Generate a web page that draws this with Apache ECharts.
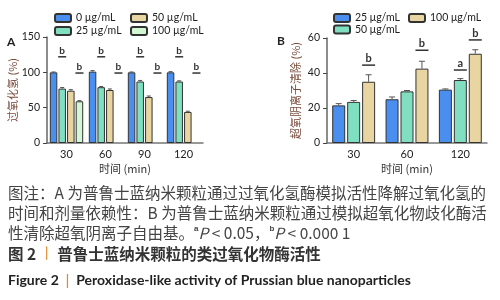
<!DOCTYPE html>
<html>
<head>
    <meta charset="utf-8">
    <title>fig2</title>
    <script src="https://cdn.jsdelivr.net/npm/echarts@6/dist/echarts.min.js"></script>
    <style>
        html, body { margin: 0; padding: 0; background: #fff; }
    </style>
</head>
<body>
<div id="chart" style="width: 500px; height: 300px;"></div>
<script>
    // 图A 数据
    var catsA = ['30', '60', '90', '120'];
    var namesA = ['0 µg/mL', '25 µg/mL', '50 µg/mL', '100 µg/mL'];
    var valA0 = [100, 101, 100, 100];
    var valA25 = [77, 79, 87, 87];
    var valA50 = [74, 75, 65, 44];
    var valA100 = [59, null, null, null];
    var errA0 = [0.5, 1.5, 0.5, 1];
    var errA25 = [1.5, 1, 1.5, 1];
    var errA50 = [1.5, 1.5, 1.5, 1];
    var errA100 = [1, null, null, null];
    // 显著性标记 [类别, 柱序号, 横线位置, 文字]
    var sigA = [[0, 1, 122, 'b'], [0, 3, 99, 'b'], [1, 1, 122, 'b'], [1, 3, 99, 'b'],
        [2, 1, 122, 'b'], [2, 3, 99, 'b'], [3, 1, 122, 'b'], [3, 3, 99, 'b']];
    var ticksA = [0, 50, 100, 150];

    // 图B 数据
    var catsB = ['30', '60', '120'];
    var namesB = ['25 μg/mL', '50 μg/mL', '100 μg/mL'];
    var valB25 = [21.5, 25, 30.5];
    var valB50 = [23.5, 29.5, 36];
    var valB100 = [35, 42.5, 51];
    var errB25 = [1, 1.3, 0.4];
    var errB50 = [0.8, 0.5, 0.8];
    var errB100 = [4, 4.2, 2.3];
    var sigB = [[0, 2, 44.5, 'b'], [1, 2, 53, 'b'], [2, 1, 41.7, 'a'], [2, 2, 58.9, 'b']];
    var ticksB = [0, 20, 40, 60];

    var colorsA = ['#4a8ef0', '#80dfc0', '#e9d5a1', '#d2f7d2'];
    var colorsB = ['#4a8ef0', '#80dfc0', '#e9d5a1'];

    var latin = 'Lato, "Noto Sans", sans-serif';
    var cjk = '"Noto Sans CJK SC", sans-serif';

    function errData(vals, errs) {
        var out = [];
        for (var s = 0; s < vals.length; s++) {
            for (var c = 0; c < vals[s].length; c++) {
                if (vals[s][c] != null) out.push([c, s, vals[s][c], errs[s][c]]);
            }
        }
        return out;
    }

    // 误差线
    function errRender(n, step, capW) {
        return function (params, api) {
            var cat = api.value(0), slot = api.value(1), v = api.value(2), e = api.value(3);
            var p0 = api.coord([cat, v]);
            var p1 = api.coord([cat, v + e]);
            var x = p0[0] + (slot - (n - 1) / 2) * step;
            return {
                type: 'group',
                children: [
                    {type: 'line', shape: {x1: x, y1: p0[1], x2: x, y2: p1[1]}, style: {stroke: '#555', lineWidth: 1}},
                    {type: 'line', shape: {x1: x - capW / 2, y1: p1[1], x2: x + capW / 2, y2: p1[1]}, style: {stroke: '#555', lineWidth: 1}}
                ]
            };
        };
    }

    // 显著性 b / a
    function sigRender(n, step, lineW, fs) {
        return function (params, api) {
            var cat = api.value(0), slot = api.value(1), v = api.value(2);
            var p = api.coord([cat, v]);
            var x = p[0] + (slot - (n - 1) / 2) * step;
            var t = sigText[params.seriesName][params.dataIndex];
            return {
                type: 'group',
                children: [
                    {type: 'line', shape: {x1: x - lineW / 2, y1: p[1], x2: x + lineW / 2, y2: p[1]}, style: {stroke: '#333', lineWidth: 1.5}},
                    {type: 'text', x: x, y: p[1] - 1, style: {text: t, fill: '#333', font: 'bold ' + fs + 'px ' + latin, align: 'center', verticalAlign: 'bottom'}}
                ]
            };
        };
    }
    var sigText = {
        sigA: sigA.map(function (d) { return d[3]; }),
        sigB: sigB.map(function (d) { return d[3]; })
    };

    var bwA = 7.5, gapA = 0.15, bwB = 13, gapB = 0.15;

    var valsA = [valA0, valA25, valA50, valA100];
    var errsA = [errA0, errA25, errA50, errA100];
    var valsB = [valB25, valB50, valB100];
    var errsB = [errB25, errB50, errB100];

    var series = [];
    namesA.forEach(function (nm, i) {
        series.push({
            name: nm, type: 'bar', xAxisIndex: 0, yAxisIndex: 0,
            data: valsA[i].map(function (v) { return v == null ? '-' : v; }),
            barWidth: bwA, barGap: (gapA * 100) + '%',
            itemStyle: {color: colorsA[i], borderColor: '#333', borderWidth: 1}
        });
    });
    namesB.forEach(function (nm, i) {
        series.push({
            name: nm, type: 'bar', xAxisIndex: 1, yAxisIndex: 1,
            data: valsB[i],
            barWidth: bwB, barGap: (gapB * 100) + '%',
            itemStyle: {color: colorsB[i], borderColor: '#333', borderWidth: 1}
        });
    });
    series.push({
        name: 'errA', type: 'custom', xAxisIndex: 0, yAxisIndex: 0, z: 3,
        renderItem: errRender(4, bwA * (1 + gapA), 4), encode: {x: 0, y: 2},
        data: errData(valsA, errsA)
    });
    series.push({
        name: 'errB', type: 'custom', xAxisIndex: 1, yAxisIndex: 1, z: 3,
        renderItem: errRender(3, bwB * (1 + gapB), 6), encode: {x: 0, y: 2},
        data: errData(valsB, errsB)
    });
    series.push({
        name: 'sigA', type: 'custom', xAxisIndex: 0, yAxisIndex: 0, z: 3,
        renderItem: sigRender(4, bwA * (1 + gapA), 8, 10), encode: {x: 0, y: 2},
        data: sigA.map(function (d) { return [d[0], d[1], d[2]]; })
    });
    series.push({
        name: 'sigB', type: 'custom', xAxisIndex: 1, yAxisIndex: 1, z: 3,
        renderItem: sigRender(3, bwB * (1 + gapB), 13, 11), encode: {x: 0, y: 2},
        data: sigB.map(function (d) { return [d[0], d[1], d[2]]; })
    });

    function leg(name, left, top) {
        return {
            data: [name], left: left, top: top, padding: 0,
            itemWidth: 16, itemHeight: 8, selectedMode: false,
            textStyle: {fontSize: 10.5, color: '#222', fontFamily: latin}
        };
    }

    function yAx(grid, max, step, name, gap) {
        return {
            gridIndex: grid, type: 'value', min: 0, max: max, interval: step,
            name: name, nameLocation: 'middle', nameGap: gap,
            nameTextStyle: {fontSize: 11, color: '#7a4b3c', fontFamily: cjk},
            splitLine: {show: false},
            axisLine: {show: true, lineStyle: {color: '#666', width: 1.5}},
            axisTick: {show: true, length: 4, lineStyle: {color: '#444'}},
            axisLabel: {fontSize: 10.5, color: '#222', fontFamily: latin, margin: 7}
        };
    }
    function xAx(grid, cats) {
        return {
            gridIndex: grid, type: 'category', data: cats,
            name: '时间 (min)', nameLocation: 'middle', nameGap: 20,
            nameTextStyle: {fontSize: 11, color: '#333', fontFamily: cjk, verticalAlign: 'top'},
            axisLine: {lineStyle: {color: '#777', width: 1.5}},
            axisTick: {alignWithLabel: true, length: 3, lineStyle: {color: '#444'}},
            axisLabel: {fontSize: 11, color: '#222', fontFamily: latin, margin: 6}
        };
    }

    var Mychart = echarts.init(document.getElementById('chart'));
    var option = {
        backgroundColor: '#fff',
        animation: false,
        grid: [
            {left: 47, top: 37, width: 156, height: 106},
            {left: 327, top: 38, width: 160, height: 105}
        ],
        legend: [
            leg(namesA[0], 54, 12.5), leg(namesA[2], 130, 12.5),
            leg(namesA[1], 54, 25.5), leg(namesA[3], 130, 25.5),
            leg(namesB[0], 333, 12.5), leg(namesB[2], 408, 12.5),
            leg(namesB[1], 333, 24)
        ],
        xAxis: [xAx(0, catsA), xAx(1, catsB)],
        yAxis: [yAx(0, 150, 50, '过氧化氢 (%)', 26), yAx(1, 60, 20, '超氧阴离子清除 (%)', 26)],
        series: series,
        graphic: [
            {type: 'text', left: 7, top: 36, style: {text: 'A', font: 'bold 12px ' + latin, fill: '#222'}},
            {type: 'text', left: 277, top: 35, style: {text: 'B', font: 'bold 12px ' + latin, fill: '#222'}},
            {type: 'text', left: 8, top: 185, style: {text: '图注：A 为普鲁士蓝纳米颗粒通过过氧化氢酶模拟活性降解过氧化氢的', font: '15.5px ' + cjk, fill: '#444'}},
            {type: 'text', left: 8, top: 205, style: {text: '时间和剂量依赖性：B 为普鲁士蓝纳米颗粒通过模拟超氧化物歧化酶活', font: '15.5px ' + cjk, fill: '#444'}},
            {type: 'text', left: 8, top: 225, style: {
                text: '性清除超氧阴离子自由基。{sup|a}{it|P} < 0.05，{sup|b}{it|P} < 0.000 1',
                font: '15.5px ' + cjk, fill: '#444',
                rich: {sup: {fontSize: 8, fontWeight: 'bold', verticalAlign: 'top', fill: '#444'},
                    it: {fontStyle: 'italic', fontSize: 15.5, fontFamily: cjk, fill: '#444'}}
            }},
            {type: 'text', left: 8, top: 246, style: {
                text: '图 2 {bar|丨} 普鲁士蓝纳米颗粒的类过氧化物酶活性',
                font: 'bold 15.5px ' + cjk, fill: '#333',
                rich: {bar: {fill: '#e0892a', fontSize: 14}}
            }},
            {type: 'text', left: 8, top: 273, style: {
                text: 'Figure 2  {bar||}  Peroxidase-like activity of Prussian blue nanoparticles',
                font: 'bold 14px ' + latin, fill: '#222',
                rich: {bar: {fill: '#e0892a', fontSize: 15, fontWeight: 'normal'}}
            }}
        ]
    };
    Mychart.setOption(option);
</script>
</body>
</html>
